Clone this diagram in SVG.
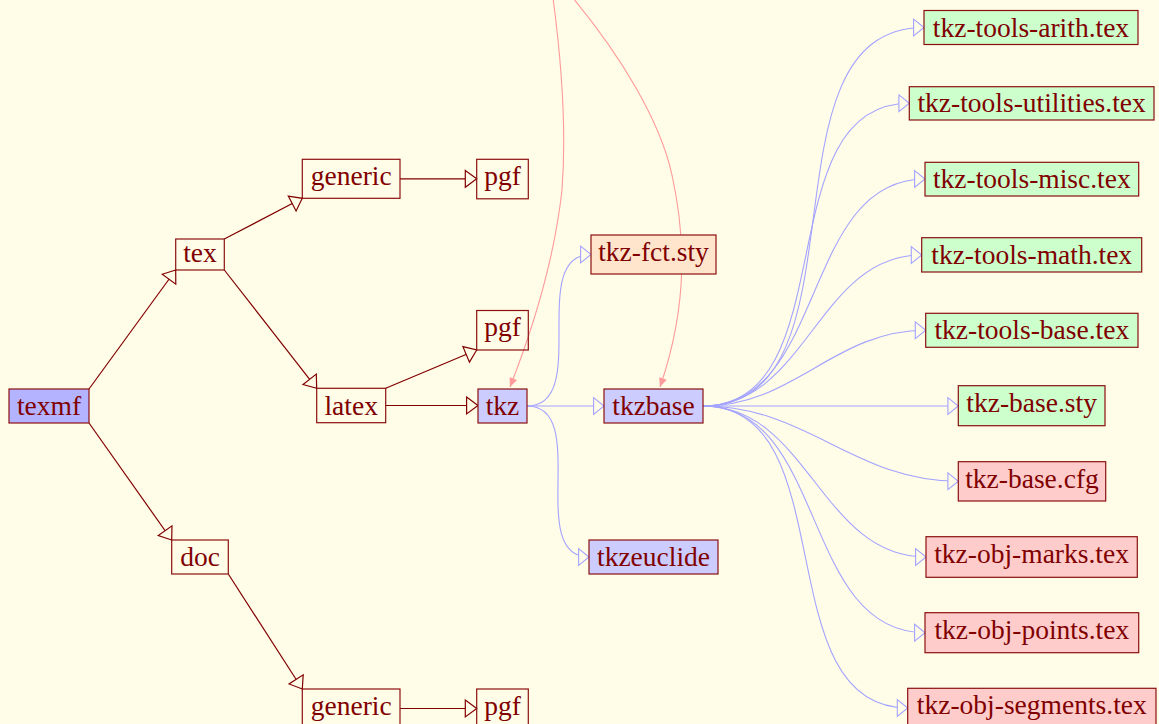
<svg xmlns="http://www.w3.org/2000/svg" width="1159" height="724" viewBox="0 0 1159 724">
<defs>
<style>
.bx{stroke:#8b1010;stroke-width:1.2}
.t{font-family:"Liberation Serif","Times New Roman",serif;font-size:27.5px;fill:#800000;text-anchor:middle}
.e{fill:none;stroke:#800000;stroke-width:1.2;marker-end:url(#ar)}
.b{fill:none;stroke:#a3a3ff;stroke-width:1.1;marker-end:url(#ab)}
.p{fill:none;stroke:#ff9a9a;stroke-width:1.1;marker-end:url(#ap)}
</style>
<marker id="ar" markerUnits="userSpaceOnUse" markerWidth="14" markerHeight="20" refX="12" refY="9" orient="auto" overflow="visible">
<path d="M0.6,0.6 L12,9 L0.6,17.4 Z" fill="#fffce8" stroke="#800000" stroke-width="1.2"/>
</marker>
<marker id="ab" markerUnits="userSpaceOnUse" markerWidth="14" markerHeight="20" refX="11" refY="9" orient="auto" overflow="visible">
<path d="M0.6,0.6 L11,9 L0.6,17.4 Z" fill="#fffce8" stroke="#a3a3ff" stroke-width="1.1"/>
</marker>
<marker id="ap" markerUnits="userSpaceOnUse" markerWidth="10" markerHeight="8" refX="9" refY="4" orient="auto" overflow="visible">
<path d="M0,0 L9,4 L0,8 Z" fill="#ff9a9a"/>
</marker>
</defs>
<rect x="0" y="0" width="1159" height="724" fill="#fffce8"/>

<g id="connectors">
<path class="e" d="M89,389 L175.7,270"/>
<path class="e" d="M89,423 L171.7,540"/>
<path class="e" d="M224.3,239 L302.3,198.3"/>
<path class="e" d="M224.3,270 L316.7,388.3"/>
<path class="e" d="M400,178.8 L476.7,178.8"/>
<path class="e" d="M385.7,388.3 L476.7,350"/>
<path class="e" d="M385.7,405.5 L478,405.5"/>
<path class="e" d="M228.3,574 L302.3,689"/>
<path class="e" d="M400,708.5 L476.7,708.5"/>

<path class="b" d="M527,406 C591.4,406 526.6,254.5 591,254.5"/>
<path class="b" d="M527,406 L604,406"/>
<path class="b" d="M527,406 C590.9,406 525.1,557 589,557"/>

<path class="b" d="M703,406 C874.6,406 752.4,27.5 924,27.5"/>
<path class="b" d="M703,406 C846.3,406 765.7,103.3 909.3,103.3"/>
<path class="b" d="M703,406 C827.3,406 800.7,179 925,179"/>
<path class="b" d="M703,406 C807,406 817.7,255 921.7,255"/>
<path class="b" d="M703,406 C795.1,406 833.6,330.3 925.7,330.3"/>
<path class="b" d="M703,406 L958.3,406"/>
<path class="b" d="M703,406 C807.2,406 854.1,481.3 958.3,481.3"/>
<path class="b" d="M703,406 C808.4,406 820.6,557 926,557"/>
<path class="b" d="M703,406 C827.2,406 800.8,632.7 925,632.7"/>
<path class="b" d="M703,406 C845.8,406 764.9,708 907.7,708"/>

<path class="p" d="M553,-2 Q568,110 562,190 Q552,280 510,387"/>
<path class="p" d="M573,-2 C620,55 660,120 672,175 S690,300 660,387"/>
</g>

<g id="texmf"><rect class="bx" x="9" y="389" width="80" height="34" fill="#b3b3ff"/><text class="t" x="49" y="415">texmf</text></g>
<g id="tex"><rect class="bx" x="175.7" y="239" width="48.6" height="31" fill="none"/><text class="t" x="200" y="262">tex</text></g>
<g id="generic1"><rect class="bx" x="302.3" y="159.3" width="97.7" height="39" fill="none"/><text class="t" x="351.2" y="185">generic</text></g>
<g id="pgf1"><rect class="bx" x="476.7" y="159.3" width="51.6" height="39.5" fill="none"/><text class="t" x="502.5" y="185">pgf</text></g>
<g id="pgf2"><rect class="bx" x="476.7" y="310.5" width="51.6" height="39.5" fill="none"/><text class="t" x="502.5" y="336">pgf</text></g>
<g id="latex"><rect class="bx" x="316.7" y="388.3" width="69" height="34.4" fill="none"/><text class="t" x="351.2" y="414.5">latex</text></g>
<g id="tkz"><rect class="bx" x="478" y="389" width="49" height="34" fill="#ccccff"/><text class="t" x="502.5" y="415">tkz</text></g>
<g id="tkz-fct"><rect class="bx" x="591" y="235" width="125" height="39" fill="#ffe5cc"/><text class="t" x="653.5" y="261">tkz-fct.sty</text></g>
<g id="tkzbase"><rect class="bx" x="604" y="389" width="99" height="34" fill="#ccccff"/><text class="t" x="653.5" y="415">tkzbase</text></g>
<g id="tkzeuclide"><rect class="bx" x="589" y="540" width="129" height="34" fill="#ccccff"/><text class="t" x="653.5" y="566">tkzeuclide</text></g>
<g id="doc"><rect class="bx" x="171.7" y="540" width="56.6" height="34" fill="none"/><text class="t" x="200" y="566">doc</text></g>
<g id="generic2"><rect class="bx" x="302.3" y="689" width="97.7" height="40" fill="none"/><text class="t" x="351.2" y="715">generic</text></g>
<g id="pgf3"><rect class="bx" x="476.7" y="689" width="51.6" height="40" fill="none"/><text class="t" x="502.5" y="715">pgf</text></g>

<g id="arith"><rect class="bx" x="924" y="10.5" width="214" height="34" fill="#ccffcc"/><text class="t" x="1031" y="36.5">tkz-tools-arith.tex</text></g>
<g id="utilities"><rect class="bx" x="909.3" y="86.7" width="244.7" height="33.3" fill="#ccffcc"/><text class="t" x="1031.6" y="112">tkz-tools-utilities.tex</text></g>
<g id="misc"><rect class="bx" x="925" y="162.3" width="213.7" height="33.7" fill="#ccffcc"/><text class="t" x="1031.8" y="188">tkz-tools-misc.tex</text></g>
<g id="math"><rect class="bx" x="921.7" y="237.7" width="220" height="34.3" fill="#ccffcc"/><text class="t" x="1031.7" y="264">tkz-tools-math.tex</text></g>
<g id="basetex"><rect class="bx" x="925.7" y="313.3" width="212.3" height="34" fill="#ccffcc"/><text class="t" x="1031.8" y="339">tkz-tools-base.tex</text></g>
<g id="basesty"><rect class="bx" x="958.3" y="385.7" width="146.7" height="40" fill="#ccffcc"/><text class="t" x="1031.6" y="412">tkz-base.sty</text></g>
<g id="basecfg"><rect class="bx" x="958.3" y="461.7" width="147.4" height="39.3" fill="#ffcccc"/><text class="t" x="1032" y="488">tkz-base.cfg</text></g>
<g id="marks"><rect class="bx" x="926" y="536.7" width="211.3" height="40.6" fill="#ffcccc"/><text class="t" x="1031.6" y="563">tkz-obj-marks.tex</text></g>
<g id="points"><rect class="bx" x="925" y="612.7" width="213.7" height="40" fill="#ffcccc"/><text class="t" x="1031.8" y="639">tkz-obj-points.tex</text></g>
<g id="segments"><rect class="bx" x="907.7" y="688.3" width="248.3" height="40.7" fill="#ffcccc"/><text class="t" x="1031.8" y="714">tkz-obj-segments.tex</text></g>
</svg>
